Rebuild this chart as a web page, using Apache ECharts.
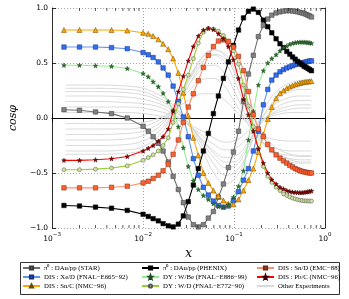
<!DOCTYPE html>
<html><head><meta charset="utf-8">
<script src="https://cdn.jsdelivr.net/npm/echarts@6/dist/echarts.min.js"></script>
<style>html,body{margin:0;padding:0;background:#fff}#c{width:349px;height:299px}</style>
</head><body><div id="c"></div>
<script>
// shared x grid of the coloured series
const xGrid = [0.00135,0.002,0.003,0.0045,0.0067,0.01,
  0.0114,0.0129,0.0147,0.0166,0.0189,0.0214,0.0244,0.0277,0.0314,0.0357,
  0.0405,0.046,0.0522,0.0593,0.0673,0.0764,0.0867,0.0985,0.112,0.127,
  0.144,0.163,0.185,0.21,
  0.235,0.26,0.29,0.32,0.35,0.38,0.41,0.44,0.47,0.5,0.53,0.56,0.59,0.62,0.65,0.68,0.71];

const starVals = [0.075,0.07,0.055,0.04,0.0,-0.075,
  -0.12,-0.17,-0.23,-0.30,-0.40,-0.53,-0.65,-0.77,-0.90,-0.97,
  -0.99,-0.97,-0.91,-0.85,-0.72,-0.60,-0.45,-0.31,-0.12,0.15,
  0.40,0.57,0.74,0.84,
  0.90,0.935,0.955,0.965,0.972,0.975,0.975,0.973,0.97,0.965,0.96,0.955,0.95,0.942,0.935,0.927,0.918];
const phenixVals = [-0.795,-0.80,-0.81,-0.82,-0.84,-0.875,
  -0.895,-0.915,-0.935,-0.96,-0.98,-0.99,-0.965,-0.89,-0.76,-0.61,
  -0.46,-0.30,-0.14,0.04,0.20,0.36,0.51,0.66,0.80,0.91,
  0.97,0.99,0.96,0.89,
  0.83,0.775,0.72,0.675,0.64,0.605,0.58,0.555,0.535,0.515,0.50,0.485,0.47,0.46,0.45,0.44,0.43];
const emcVals = [-0.635,-0.635,-0.635,-0.63,-0.62,-0.59,
  -0.575,-0.55,-0.52,-0.48,-0.42,-0.33,-0.20,-0.04,0.10,0.22,
  0.34,0.46,0.57,0.65,0.70,0.71,0.695,0.645,0.56,0.43,
  0.24,0.03,-0.10,-0.17,
  -0.24,-0.29,-0.335,-0.365,-0.39,-0.41,-0.43,-0.445,-0.46,-0.47,-0.478,-0.485,-0.49,-0.494,-0.497,-0.5,-0.5];
const xeVals = [0.645,0.645,0.645,0.64,0.63,0.595,
  0.575,0.55,0.51,0.455,0.39,0.29,0.15,0.01,-0.17,-0.37,
  -0.52,-0.63,-0.70,-0.755,-0.795,-0.81,-0.80,-0.75,-0.67,-0.565,
  -0.46,-0.30,-0.12,0.12,
  0.26,0.345,0.39,0.42,0.44,0.455,0.465,0.475,0.485,0.49,0.495,0.50,0.505,0.51,0.515,0.518,0.52];
const wbeVals = [0.48,0.48,0.475,0.47,0.45,0.405,
  0.375,0.33,0.285,0.225,0.15,0.07,-0.08,-0.27,-0.44,-0.57,
  -0.65,-0.705,-0.74,-0.78,-0.805,-0.81,-0.79,-0.72,-0.62,-0.48,
  -0.2,0.06,0.30,0.43,
  0.50,0.54,0.575,0.61,0.64,0.655,0.67,0.68,0.685,0.688,0.69,0.69,0.69,0.688,0.686,0.684,0.68];
const pbcVals = [-0.385,-0.385,-0.38,-0.37,-0.35,-0.30,
  -0.275,-0.25,-0.21,-0.17,-0.10,0.06,0.24,0.38,0.52,0.65,
  0.745,0.80,0.815,0.805,0.765,0.72,0.65,0.53,0.36,0.17,
  0.03,-0.12,-0.28,-0.41,
  -0.50,-0.56,-0.60,-0.63,-0.645,-0.66,-0.668,-0.673,-0.676,-0.677,-0.678,-0.678,-0.676,-0.673,-0.67,-0.667,-0.663];
const sncVals = [0.80,0.80,0.80,0.80,0.795,0.775,
  0.765,0.745,0.715,0.675,0.625,0.54,0.41,0.23,0.02,-0.18,
  -0.34,-0.50,-0.59,-0.66,-0.71,-0.75,-0.78,-0.785,-0.74,-0.66,
  -0.565,-0.46,-0.31,-0.15,
  -0.01,0.10,0.18,0.225,0.25,0.27,0.285,0.295,0.305,0.312,0.318,0.323,0.327,0.33,0.332,0.334,0.335];
const wdVals = [-0.47,-0.47,-0.465,-0.455,-0.435,-0.385,
  -0.36,-0.335,-0.30,-0.25,-0.18,-0.04,0.13,0.26,0.39,0.54,
  0.68,0.78,0.815,0.81,0.79,0.75,0.70,0.61,0.49,0.30,
  0.11,-0.08,-0.28,-0.44,
  -0.53,-0.585,-0.63,-0.66,-0.69,-0.705,-0.718,-0.728,-0.736,-0.742,-0.747,-0.75,-0.752,-0.754,-0.755,-0.755,-0.755];

// other experiments (thin grey curves)
const otherX = [0.0014,0.003,0.0067,0.01,0.015,0.02,0.03,0.045,0.06,0.08,0.1,0.13,0.17,0.22,0.3,0.42,0.55,0.71];
const otherVals = [
  [0.27,0.27,0.26,0.24,0.18,0.12,-0.02,-0.25,-0.42,-0.52,-0.50,-0.38,-0.15,0.05,0.18,0.24,0.26,0.26],
  [0.24,0.24,0.23,0.21,0.16,0.10,-0.03,-0.22,-0.36,-0.45,-0.44,-0.33,-0.12,0.04,0.14,0.19,0.2,0.2],
  [0.20,0.20,0.19,0.17,0.13,0.08,-0.03,-0.20,-0.32,-0.40,-0.40,-0.30,-0.13,0.0,0.1,0.15,0.16,0.16],
  [0.15,0.15,0.14,0.13,0.10,0.05,-0.05,-0.20,-0.30,-0.36,-0.35,-0.27,-0.12,-0.01,0.07,0.11,0.12,0.12],
  [0.10,0.10,0.10,0.09,0.06,0.03,-0.05,-0.16,-0.24,-0.29,-0.28,-0.21,-0.09,0.0,0.05,0.08,0.09,0.09],
  [0.05,0.05,0.05,0.04,0.02,0.0,-0.05,-0.12,-0.18,-0.22,-0.21,-0.15,-0.06,0.0,0.03,0.05,0.05,0.05],
  [0.30,0.30,0.29,0.27,0.21,0.14,-0.02,-0.30,-0.50,-0.60,-0.56,-0.40,-0.12,0.10,0.25,0.32,0.34,0.34],
  [-0.05,-0.05,-0.05,-0.04,0.0,0.05,0.15,0.22,0.22,0.16,0.08,-0.02,-0.12,-0.17,-0.2,-0.21,-0.21,-0.21],
  [-0.10,-0.10,-0.10,-0.08,-0.02,0.06,0.22,0.35,0.36,0.28,0.15,0.0,-0.15,-0.24,-0.28,-0.3,-0.3,-0.3],
  [-0.15,-0.15,-0.14,-0.12,-0.05,0.05,0.27,0.45,0.48,0.40,0.25,0.05,-0.14,-0.26,-0.32,-0.34,-0.35,-0.35],
  [-0.20,-0.20,-0.19,-0.16,-0.08,0.04,0.30,0.52,0.57,0.50,0.35,0.12,-0.10,-0.25,-0.33,-0.37,-0.38,-0.38],
  [-0.25,-0.25,-0.24,-0.21,-0.12,0.02,0.32,0.56,0.62,0.56,0.42,0.18,-0.07,-0.24,-0.35,-0.40,-0.41,-0.41],
  [-0.30,-0.30,-0.29,-0.26,-0.16,0.0,0.30,0.55,0.62,0.58,0.46,0.24,-0.02,-0.2,-0.32,-0.38,-0.4,-0.4],
  [-0.33,-0.33,-0.32,-0.29,-0.2,-0.05,0.25,0.5,0.58,0.54,0.43,0.23,0.0,-0.17,-0.28,-0.33,-0.34,-0.34]
];

const minorTickX = [0.002,0.003,0.004,0.005,0.006,0.007,0.008,0.009,
  0.02,0.03,0.04,0.05,0.06,0.07,0.08,0.09,
  0.2,0.3,0.4,0.5,0.6,0.7,0.8,0.9];

const names = {
  star:'π\u2070 : DAu/pp (STAR)', phenix:'π\u2070 : DAu/pp (PHENIX)', emc:'DIS : Sn/D (EMC\u221288)',
  xe:'DIS : Xe/D (FNAL\u2212E665\u221292)', wbe:'DY : W/Be (FNAL\u2212E886\u221299)', pbc:'DIS : Pb/C (NMC\u221296)',
  snc:'DIS : Sn/C (NMC\u221296)', wd:'DY : W/D (FNAL\u2212E772\u221290)', other:'Other Experiments'
};
const legendCols = [[names.star, names.xe, names.snc], [names.phenix, names.wbe, names.wd], [names.emc, names.pbc, names.other]];
const STAR = 'path://M0,-10L2.35,-3.24L9.51,-3.09L3.8,1.24L5.88,8.09L0,4L-5.88,8.09L-3.8,1.24L-9.51,-3.09L-2.35,-3.24Z';

function pairs(xs, ys){ return xs.map((x,i)=>[x, ys[i]]); }
function main(name, vals, lineColor, fill, border, symbol, size){
  return {name, type:'line', data:pairs(xGrid, vals), symbol, symbolSize:size, showSymbol:true,
    lineStyle:{color:lineColor, width:1.1}, itemStyle:{color:fill, borderColor:border, borderWidth:0.5},
    z:3, emphasis:{disabled:true}, animation:false};
}
const series = [];
otherVals.forEach(v=>series.push({name:names.other, type:'line', data:pairs(otherX, v), smooth:0.4,
  showSymbol:false, symbol:'none', lineStyle:{color:'#d9d9d9', width:1.0}, itemStyle:{color:'#d9d9d9'}, z:1, animation:false, emphasis:{disabled:true}}));
series.push(main(names.star, starVals, '#707070', '#808080', '#3a3a3a', 'rect', 4.5));
series.push(main(names.xe, xeVals, '#6495ED', '#2f6ff0', '#1a2f80', 'rect', 4.5));
series.push(main(names.snc, sncVals, '#FFA500', '#FFA500', '#6b4a00', 'triangle', 5));
series.push(main(names.phenix, phenixVals, '#000000', '#000000', '#000000', 'rect', 4.5));
series.push(main(names.wbe, wbeVals, '#90EE90', '#2e6b2e', '#1f4a1f', STAR, 4.5));
series.push(main(names.wd, wdVals, '#9ACD32', '#cfe39a', '#555', 'circle', 4));
series.push(main(names.emc, emcVals, '#FF9070', '#FF6030', '#7a2a10', 'rect', 4.5));
series.push(main(names.pbc, pbcVals, '#FF0000', '#8B0000', '#400000', STAR, 4.5));
// minor ticks on log axis (top and bottom)
series.push({type:'scatter', data:minorTickX.map(x=>[x,1]), symbol:'rect', symbolSize:[0.8,3], symbolOffset:[0,1.5],
  itemStyle:{color:'#000'}, silent:true, clip:false, z:10, animation:false});
series.push({type:'scatter', data:minorTickX.map(x=>[x,-1]), symbol:'rect', symbolSize:[0.8,3], symbolOffset:[0,-1.5],
  itemStyle:{color:'#000'}, silent:true, clip:false, z:10, animation:false});

const legendLefts = [22, 141, 256];
const legends = legendCols.map((col, i)=>({
  left:legendLefts[i], top:264, orient:'vertical', itemWidth:17, itemHeight:4, itemGap:1,
  padding:0, selectedMode:false, symbolKeepAspect:true,
  textStyle:{fontFamily:'Liberation Serif', fontSize:6.8, color:'#000', lineHeight:8, padding:[0,0,0,-1]},
  data:col}));

const chart = echarts.init(document.getElementById('c'), null, {renderer:'canvas'});
const axisLine = {show:true, lineStyle:{color:'#000', width:0.8}};
const tick = {show:true, inside:true, length:4, lineStyle:{color:'#000', width:0.8}};
const gridDot = {show:true, lineStyle:{color:'#888', width:0.8, type:[1,2]}};
chart.setOption({
  animation:false,
  grid:{left:40, right:24, top:8, bottom:71, containLabel:false},
  graphic:[{type:'rect', shape:{x:20.5, y:262.5, width:319, height:32}, style:{fill:'none', stroke:'#000', lineWidth:0.8}, silent:true}],
  xAxis:[{type:'log', logBase:10, min:0.001, max:1, axisLine, axisTick:tick, splitLine:gridDot,
      name:'x', nameLocation:'middle', nameGap:17,
      nameTextStyle:{fontFamily:'DejaVu Serif', fontStyle:'italic', fontSize:12, color:'#000'},
      axisLabel:{margin:4, color:'#000', formatter:function(v){
          const e = Math.round(Math.log10(v));
          return '{b|10}{s|' + String(e).replace('-', '\u2212') + '}';},
        rich:{b:{fontFamily:'DejaVu Sans', fontSize:7.5, color:'#000', verticalAlign:'bottom', lineHeight:11},
              s:{fontFamily:'DejaVu Sans', fontSize:5.5, color:'#000', verticalAlign:'top', lineHeight:11}}}},
    {type:'log', logBase:10, min:0.001, max:1, position:'top', axisLine, axisTick:tick,
      axisLabel:{show:false}, splitLine:{show:false}}],
  yAxis:[{type:'value', min:-1, max:1, interval:0.5, axisLine, axisTick:tick, splitLine:gridDot,
      name:'cos\u03c6', nameLocation:'middle', nameGap:26,
      nameTextStyle:{fontFamily:'DejaVu Serif', fontStyle:'italic', fontSize:11, color:'#000'},
      axisLabel:{margin:4, color:'#000', fontFamily:'DejaVu Sans', fontSize:7.5,
        formatter:v=>v.toFixed(1).replace('-', '\u2212')}},
    {type:'value', min:-1, max:1, interval:0.5, position:'right', axisLine, axisTick:tick,
      axisLabel:{show:false}, splitLine:{show:false}}],
  legend:legends,
  series
});
</script></body></html>
